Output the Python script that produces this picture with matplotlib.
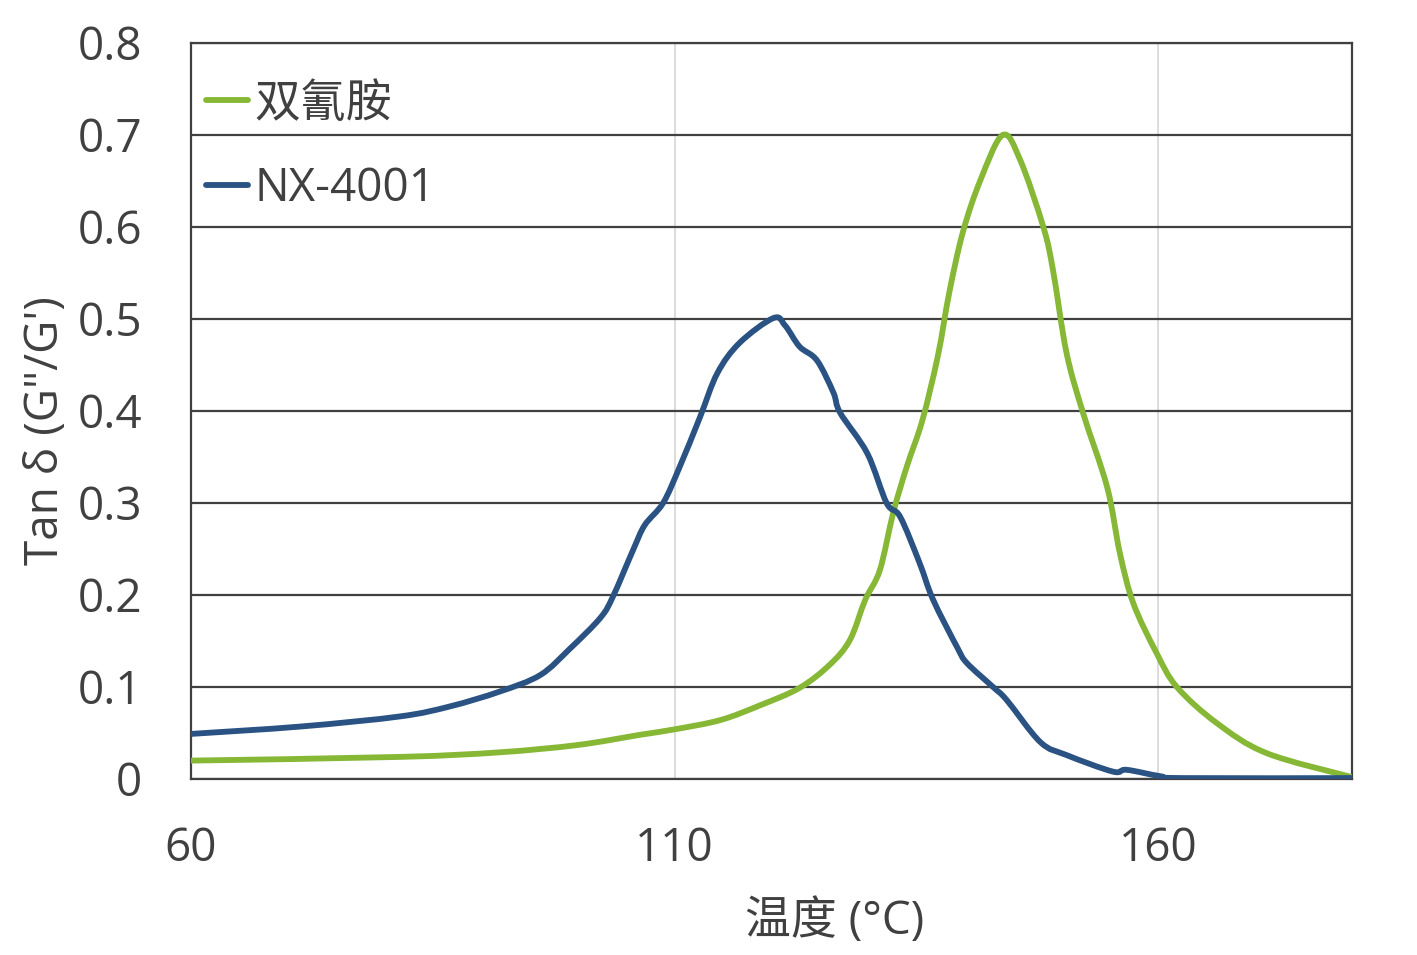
import matplotlib.pyplot as plt
from matplotlib.path import Path
from matplotlib.patches import PathPatch
from matplotlib.lines import Line2D
import numpy as np

plt.rcParams['font.family'] = ['Open Sans', 'Noto Sans CJK SC', 'DejaVu Sans']

# NX-4001
t_nx = [60, 71.3, 81.6, 86.8, 91.9, 96.1, 99.2, 102.3, 103.6, 105.7, 106.9, 108.8,
        110.5, 112.6, 114.4, 116.7, 120.2, 121.4, 122.9, 124.7, 126.4, 127.1, 129.9,
        131.9, 133.3, 135.3, 136.7, 139.2, 140.2, 142.9, 144.3, 147.8, 150.5, 155.3,
        156.7, 160.2, 162.5, 180]
tan_nx = [0.049, 0.057, 0.068, 0.079, 0.095, 0.113, 0.142, 0.175, 0.198, 0.249, 0.276,
          0.300, 0.339, 0.393, 0.441, 0.474, 0.501, 0.493, 0.470, 0.455, 0.420, 0.398,
          0.354, 0.300, 0.285, 0.235, 0.195, 0.143, 0.126, 0.100, 0.086, 0.040, 0.026,
          0.008, 0.010, 0.003, 0.001, 0.001]

# 双氰胺
t_dicy = [60, 81.6, 91.9, 100, 106.4, 110, 114.7, 118.8, 122.9, 126, 128.1, 129.7, 131.2,
          132.6, 134.0, 135.6, 137.2, 138.4, 139.8, 141.6, 143.9, 145.7, 148.1, 149.1,
          150.5, 152.2, 154.7, 156.0, 157.4, 159.8, 161.9, 166.0, 171.2, 180]
tan_dicy = [0.020, 0.024, 0.029, 0.037, 0.048, 0.054, 0.064, 0.080, 0.099, 0.124, 0.151,
            0.195, 0.227, 0.290, 0.340, 0.390, 0.460, 0.530, 0.595, 0.651, 0.700, 0.673,
            0.600, 0.553, 0.463, 0.398, 0.317, 0.246, 0.191, 0.137, 0.100, 0.061, 0.028,
            0.002]

yticks = [0, 0.1, 0.2, 0.3, 0.4, 0.5, 0.6, 0.7, 0.8]
ylabels = ["0", "0.1", "0.2", "0.3", "0.4", "0.5", "0.6", "0.7", "0.8"]
xticks = [60, 110, 160]

txt = "#404040"
c_dicy = "#86b735"
c_nx = "#2a5283"
fs = 33


def smooth_path(x, y, k=1 / 6):
    # excel-like smoothed line: bezier segments through the data points
    p = np.column_stack([x, y])
    verts = [p[0]]
    codes = [Path.MOVETO]
    n = len(p)
    for i in range(n - 1):
        p0 = p[max(i - 1, 0)]
        p1 = p[i]
        p2 = p[i + 1]
        p3 = p[min(i + 2, n - 1)]
        verts += [p1 + (p2 - p0) * k, p2 - (p3 - p1) * k, p2]
        codes += [Path.CURVE4] * 3
    return Path(verts, codes)


fig = plt.figure(figsize=(14.17, 9.55), dpi=100)
ax = fig.add_axes([0.1348, 0.1843, 0.8193, 0.7707])

for x in xticks[1:]:
    ax.axvline(x, color="#d9d9d9", lw=1.3, zorder=1)
for y in yticks:
    ax.axhline(y, color="#404040", lw=1.6, zorder=1)

ax.add_patch(PathPatch(smooth_path(t_dicy, tan_dicy), fc="none", ec=c_dicy, lw=4.2,
                       zorder=3, capstyle="round", joinstyle="round"))
ax.add_patch(PathPatch(smooth_path(t_nx, tan_nx), fc="none", ec=c_nx, lw=4.2,
                       zorder=3, capstyle="round", joinstyle="round"))

ax.set_xlim(60, 180)
ax.set_ylim(0, 0.8)
ax.set_xticks(xticks)
ax.set_yticks(yticks)
ax.set_yticklabels(ylabels)
ax.tick_params(length=0, labelsize=fs, colors=txt)
ax.tick_params(axis="y", pad=35)
ax.tick_params(axis="x", pad=34)
for s in ax.spines.values():
    s.set_color("#404040")
    s.set_linewidth(1.6)

ax.set_xlabel("温度 (°C)", fontsize=fs, color=txt, va="center")
ax.xaxis.set_label_coords(0.554, -0.194)
ax.set_ylabel("Tan δ (G\"/G')", fontsize=fs, color=txt, va="center")
ax.yaxis.set_label_coords(-0.125, 0.474)

handles = [Line2D([], [], color=c_dicy, lw=4.2, solid_capstyle="round"),
           Line2D([], [], color=c_nx, lw=4.2, solid_capstyle="round")]
leg = ax.legend(handles, ["双氰胺", "NX-4001"], loc="upper left", frameon=False,
                fontsize=fs, handlelength=0.92, handletextpad=0.15, labelspacing=0.85,
                borderaxespad=0.2, bbox_to_anchor=(-0.011, 0.985))
for t in leg.get_texts():
    t.set_color(txt)

fig.savefig("out.png", dpi=100)
